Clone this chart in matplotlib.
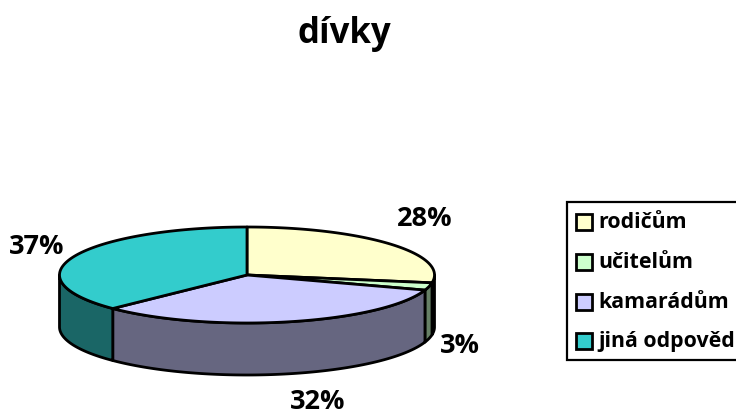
import numpy as np
import matplotlib
matplotlib.use('Agg')
import matplotlib.pyplot as plt
from matplotlib.patches import Polygon, Rectangle

plt.rcParams['font.family'] = ['Open Sans', 'DejaVu Sans']

title = 'dívky'
categories = ['rodičům', 'učitelům', 'kamarádům', 'jiná odpověd']
values = [27.6, 2.5, 32.6, 37.3]
labels = ['28%', '3%', '32%', '37%']
top_colors = ['#FFFFCC', '#CCFFCC', '#CCCCFF', '#33CCCC']
side_colors = ['#808066', '#668066', '#666680', '#1A6666']

# pie geometry, in pixels
cx, cy = 247, 275
rx, ry = 187.5, 48
depth = 52


def rim(a0, a1):
    # a is clockwise from the top, in degrees
    t = np.radians(np.linspace(a0, a1, 120))
    return np.column_stack([cx + rx * np.sin(t), cy - ry * np.cos(t)])


fig = plt.figure(figsize=(7.36, 4.15), dpi=100)
ax = fig.add_axes([0, 0, 1, 1])
ax.set_xlim(0, 736)
ax.set_ylim(415, 0)
ax.axis('off')

edges = np.cumsum([0] + values) * 3.6

# side walls first, only the front half of the rim shows
for i in range(len(values)):
    a0 = max(edges[i], 90)
    a1 = min(edges[i + 1], 270)
    if a1 <= a0:
        continue
    r = rim(a0, a1)
    wall = np.vstack([r, (r + [0, depth])[::-1]])
    ax.add_patch(Polygon(wall, closed=True, fc=side_colors[i], ec='black', lw=2, joinstyle='round'))

for i in range(len(values)):
    r = rim(edges[i], edges[i + 1])
    ax.add_patch(Polygon(np.vstack([[cx, cy], r]), closed=True, fc=top_colors[i], ec='black', lw=2, joinstyle='round'))

# percent labels
label_pos = [(425, 219), (460, 346), (318, 402), (37, 247)]
for s, (x, y) in zip(labels, label_pos):
    ax.text(x, y, s, ha='center', va='center', fontsize=19.5, fontweight='bold', color='black')

ax.text(344, 34, title, ha='center', va='center', fontsize=25, fontweight='bold', color='black')

# legend, box runs off the right edge like the original
ax.add_patch(Rectangle((567, 202), 175, 158, fc='white', ec='black', lw=1.6))
legend_y = [222, 262, 302, 341]
for name, col, y in zip(categories, top_colors, legend_y):
    ax.add_patch(Rectangle((576, y - 8), 15.5, 16, fc=col, ec='black', lw=2))
    ax.text(598, y, name, ha='left', va='center', fontsize=15.4, fontweight='bold', color='black')

fig.savefig('out.png', dpi=100)
